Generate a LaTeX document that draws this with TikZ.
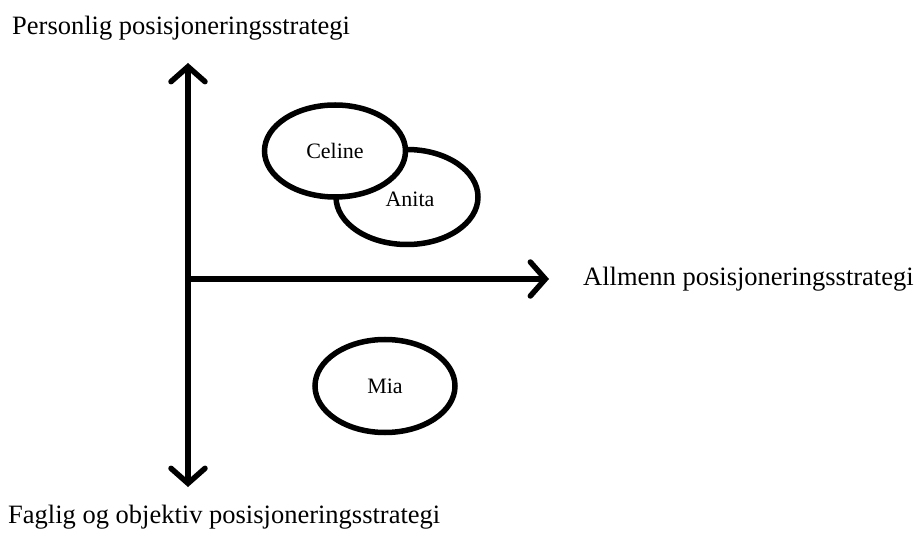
\documentclass[tikz,border=0pt]{standalone}
\usepackage{fontspec}
\setmainfont{Liberation Serif}
\usetikzlibrary{arrows.meta,shapes.geometric,positioning}

\begin{document}
\begin{tikzpicture}
	% Styles
	[
	x=1pt,y=1pt,
	axis/.style={line width=5.5pt,{Straight Barb[length=15pt,width=34pt,line cap=round]}-{Straight Barb[length=15pt,width=34pt,line cap=round]}},
	haxis/.style={line width=5.5pt,-{Straight Barb[length=15pt,width=34pt,line cap=round]}},
	person/.style={ellipse,draw,line width=5.5pt,fill=white,inner sep=0pt,font=\fontsize{22}{26}\selectfont},
	axislabel/.style={inner sep=0pt,font=\fontsize{26.5}{30}\selectfont},
	]

	\useasboundingbox (0,0) rectangle (917,533);

	% Axis
	\coordinate (origo) at (188,254);
	\coordinate (topp) at (188,470);
	\coordinate (bunn) at (188,46);
	\coordinate (hoyre) at (549,254);
	\draw[axis] (bunn) -- (topp);
	\draw[haxis] (origo) -- (hoyre);

	% Nodes
	\node at (407,336) (anita) [person,minimum width=142pt,minimum height=95pt] {};
	\node at (335,382) (celine) [person,minimum width=141pt,minimum height=92pt] {Celine};
	\node at (410,334) [inner sep=0pt,font=\fontsize{22}{26}\selectfont] {Anita};
	\node at (385,147) (mia) [person,minimum width=140pt,minimum height=93pt] {Mia};

	% Text
	\node[axislabel,anchor=base west] (personlig) at (12,498) {Personlig posisjoneringsstrategi};
	\node[axislabel,anchor=base west] (allmenn) at (583,247) {Allmenn posisjoneringsstrategi};
	\node[axislabel,anchor=base west] (faglig) at (8,10) {Faglig og objektiv posisjoneringsstrategi};
\end{tikzpicture}
\end{document}
